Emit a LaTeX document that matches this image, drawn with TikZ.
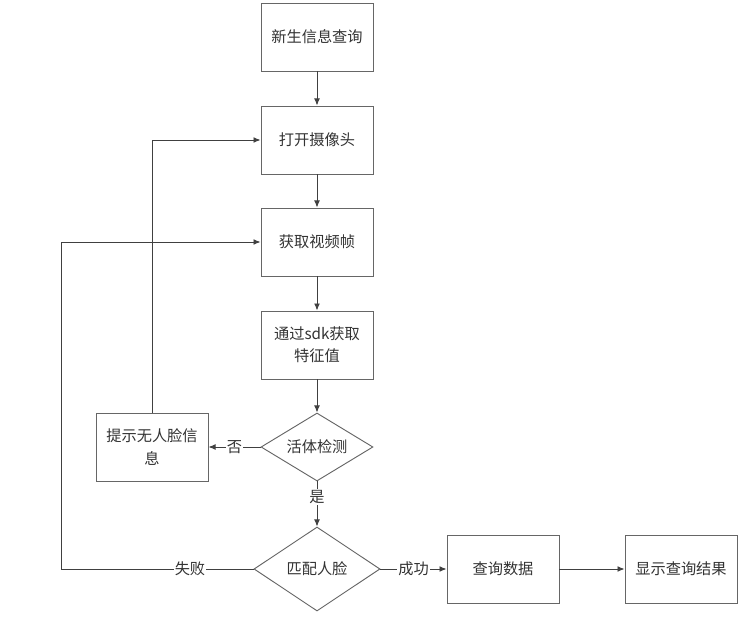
\documentclass[tikz,border=0pt]{standalone}
\usepackage{fontspec}
\newfontfamily\cjk{Noto Sans CJK SC}
\usetikzlibrary{shapes.geometric,arrows.meta}

\begin{document}
\begin{tikzpicture}[x=0.03cm,y=-0.03cm,
    box/.style={draw=black!60,thick,minimum width=3.36cm,minimum height=2.04cm,inner sep=1pt,align=center,text=black!80,font=\cjk\fontsize{13}{19}\selectfont},
    choice/.style={draw=black!60,thick,diamond,shape aspect=1.65,inner sep=0pt,text=black!80,font=\cjk\fontsize{13}{19}\selectfont},
    arr/.style={-{Latex[length=6pt,width=5pt]},black!75,thick},
    lbl/.style={fill=white,inner sep=1pt,text=black!80,font=\cjk\fontsize{13}{15}\selectfont}]
      \useasboundingbox (0,0) rectangle (754,624);
      %main column
      \node[box] (query) at (317,37) {新生信息查询};
      \node[box] (cam) at (317,140) {打开摄像头};
      \node[box] (frame) at (317,242) {获取视频帧};
      \node[box] (feat) at (317,345) {通过sdk获取\\特征值};
      \node[choice,minimum width=3.36cm,minimum height=2.04cm] (alive) at (317,447) {活体检测};
      \node[choice,minimum width=3.78cm,minimum height=2.52cm] (match) at (317,569) {匹配人脸};
      %side boxes
      \node[box] (noface) at (152,447) {提示无人脸信\\息};
      \node[box] (data) at (503,569) {查询数据};
      \node[box] (show) at (681,569) {显示查询结果};
      \coordinate (back) at (61,569);
      %arrows
      \draw[arr] (query) -- (cam);
      \draw[arr] (cam) -- (frame);
      \draw[arr] (frame) -- (feat);
      \draw[arr] (feat) -- (alive);
      \draw[arr] (alive) -- node[lbl]{否} (noface);
      \draw[arr] (alive) -- node[lbl,pos=0.35]{是} (match);
      \draw[arr] (match) -- node[lbl]{成功} (data);
      \draw[arr] (data) -- (show);
      \draw[arr] (noface.north) |- (cam);
      \draw[arr] (match.west) -- node[lbl,pos=0.33]{失败} (back) |- (frame);
    \end{tikzpicture}
\end{document}
